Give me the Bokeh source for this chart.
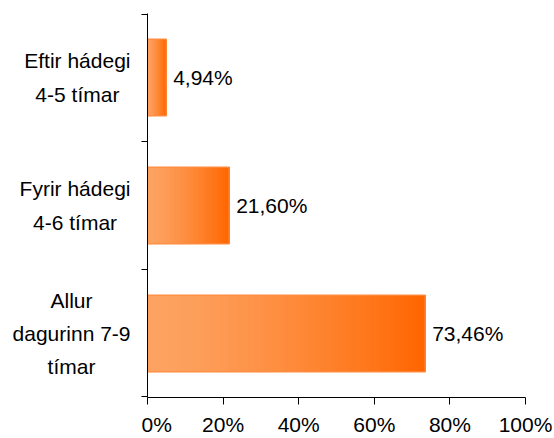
from bokeh.plotting import figure
from bokeh.layouts import row
from bokeh.models import (ColumnDataSource, Range1d, FactorRange, CategoricalAxis, FixedTicker,
                          PrintfTickFormatter, LabelSet)
from bokeh.core.properties import value
from bokeh.embed import file_html
from bokeh.resources import INLINE

# ---- data ----
categories = ["Allur\ndagurinn 7-9\ntímar", "Fyrir hádegi\n4-6 tímar", "Eftir hádegi\n4-5 tímar"]
values = [73.46, 21.60, 4.94]
x_ticks = [0, 20, 40, 60, 80, 100]

FONT = "Liberation Sans"
FS = "21px"
LIGHT = (253, 163, 98)
DARK = (255, 102, 0)
NSEG = 80
H = 438
TOP, BOTTOM = 13, 41
LEFT_W = 141

yr = FactorRange(*categories)

# ---- main chart ----
p = figure(width=554 - LEFT_W, height=H, output_backend="svg", toolbar_location=None,
           x_range=Range1d(0, 100), y_range=yr, y_axis_location=None,
           min_border_left=0, min_border_right=29, min_border_top=TOP, min_border_bottom=BOTTOM)
p.outline_line_color = None
p.xgrid.visible = False
p.ygrid.visible = False
p.background_fill_color = "white"
p.border_fill_color = "white"

# gradient bars made from slices (each slice runs to the bar end, drawn left to right)
seg = dict(y=[], left=[], right=[], color=[])
for c, v in zip(categories, values):
    for i in range(NSEG):
        t = i / (NSEG - 1)
        f = t ** 1.4
        col = tuple(int(round(LIGHT[k] + (DARK[k] - LIGHT[k]) * f)) for k in range(3))
        seg["y"].append(c)
        seg["left"].append(v * i / NSEG)
        seg["right"].append(v)
        seg["color"].append("#%02x%02x%02x" % col)
p.hbar(y="y", left="left", right="right", height=0.6, fill_color="color", line_color=None,
       source=ColumnDataSource(seg))

# outline
src = ColumnDataSource(dict(y=categories, v=values,
                            lab=[("%.2f" % v).replace(".", ",") + "%" for v in values]))
p.hbar(y="y", left=0, right="v", height=0.6, fill_color=None, line_color="#FF8C40",
       line_width=1.2, source=src)

# x axis
xa = p.xaxis[0]
xa.ticker = FixedTicker(ticks=x_ticks)
xa.formatter = PrintfTickFormatter(format="%d%%")
xa.minor_tick_line_color = None
xa.major_tick_in = 0
xa.major_tick_out = 7
xa.major_label_standoff = 8
xa.axis_line_color = "black"
xa.major_tick_line_color = "black"
xa.major_label_text_font = FONT
xa.major_label_text_font_size = FS
xa.major_label_text_color = "black"

# y axis with ticks at category boundaries (factor centres shifted onto boundaries)
bounds = ["b%d" % i for i in range(len(categories) + 1)]
p.extra_y_ranges = {"b": FactorRange(*bounds, range_padding=-0.49, range_padding_units="absolute")}
ya = CategoricalAxis(y_range_name="b",
                     major_label_overrides={b: " " for b in bounds}, major_label_standoff=0,
                     major_label_text_color=None,
                     major_tick_in=0, major_tick_out=6,
                     axis_line_color="black", major_tick_line_color="black")
p.add_layout(ya, "left")

# value labels
p.add_layout(LabelSet(x="v", y="y", text="lab", source=src, x_offset=7,
                      text_align="left", text_baseline="middle",
                      text_font=value(FONT), text_font_size=FS, text_color="black"))

# ---- category labels panel (shares the y range) ----
q = figure(width=LEFT_W, height=H, output_backend="svg", toolbar_location=None,
           x_range=Range1d(0, 1), y_range=yr, x_axis_location=None, y_axis_location=None,
           min_border_left=0, min_border_right=0, min_border_top=TOP, min_border_bottom=BOTTOM)
q.outline_line_color = None
q.xgrid.visible = False
q.ygrid.visible = False
q.border_fill_color = "white"
q.text(x=1, y="y", text="y", source=ColumnDataSource(dict(y=categories)),
       x_offset=-11, anchor="center_right", text_align="center", text_baseline="middle",
       text_font=value(FONT), text_font_size=FS, text_color="black", text_line_height=1.45)

layout = row(q, p, spacing=0)
open("out.html", "w").write(file_html(layout, INLINE))
